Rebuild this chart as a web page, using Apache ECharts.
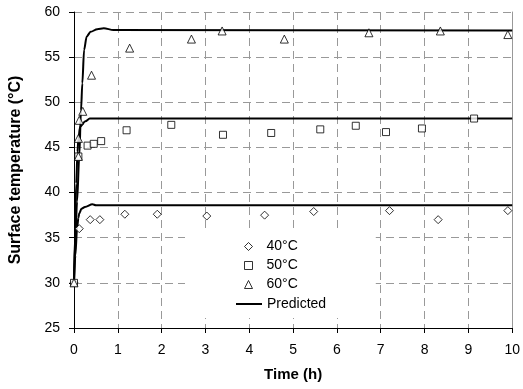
<!DOCTYPE html>
<html>
<head>
<meta charset="utf-8">
<script src="https://cdn.jsdelivr.net/npm/echarts@6/dist/echarts.min.js"></script>
<style>
  html, body { margin: 0; padding: 0; background: #fff; }
  #chart { width: 523px; height: 389px; }
</style>
</head>
<body>
<div id="chart"></div>
<script>
// measured points [time (h), temperature]
var measured40 = [[0, 30], [0.12, 36], [0.37, 37], [0.59, 37], [1.16, 37.6], [1.9, 37.6], [3.03, 37.4],
    [4.35, 37.5], [5.47, 37.9], [7.2, 38.0], [8.31, 37.0], [9.9, 38.0]];
var measured50 = [[0, 30], [0.1, 44], [0.31, 45.2], [0.45, 45.4], [0.62, 45.7], [1.2, 46.9], [2.22, 47.5],
    [3.4, 46.4], [4.5, 46.6], [5.62, 47.0], [6.43, 47.4], [7.12, 46.7], [7.94, 47.1], [9.13, 48.2]];
var measured60 = [[0, 30], [0.1, 44], [0.1, 46], [0.12, 48], [0.2, 49], [0.4, 53], [1.27, 56], [2.68, 57],
    [3.38, 57.9], [4.8, 57], [6.73, 57.7], [8.36, 57.9], [9.9, 57.5]];

// predicted curves
var predicted40 = [[0, 30], [0.03, 33], [0.07, 36], [0.1, 37.2], [0.12, 37.7], [0.17, 38.2], [0.25, 38.4],
    [0.42, 38.7], [0.5, 38.6], [10, 38.6]];
var predicted50 = [[0, 30], [0.02, 35], [0.05, 41], [0.08, 44.5], [0.1, 46], [0.14, 47.3], [0.26, 47.9],
    [0.36, 48.2], [10, 48.2]];
var predicted60 = [[0, 30], [0.03, 35], [0.07, 39], [0.12, 44], [0.16, 49.1], [0.19, 52.1], [0.23, 55.8],
    [0.29, 57.3], [0.38, 57.8], [0.53, 58.1], [0.68, 58.2], [0.9, 58.0], [10, 57.95]];

var markerNames = ['40°C', '50°C', '60°C'];
var lineName = 'Predicted';

var font = "'Liberation Sans', Arial, sans-serif";

function markerSeries(name, symbol, size, data) {
    return {
        name: name,
        type: 'scatter',
        symbol: symbol,
        symbolSize: size,
        itemStyle: {color: '#fff', borderColor: '#000', borderWidth: 1},
        z: 3,
        data: data
    };
}

function curveSeries(data) {
    return {
        name: lineName,
        type: 'line',
        symbol: 'none',
        showSymbol: false,
        smooth: 0.3,
        smoothMonotone: 'x',
        lineStyle: {color: '#000', width: 2},
        itemStyle: {color: '#000'},
        z: 2,
        data: data
    };
}

var myChart = echarts.init(document.getElementById('chart'));

var option = {
    animation: false,
    backgroundColor: '#fff',
    textStyle: {fontFamily: font},
    grid: {left: 70, right: 7, top: 12, bottom: 61},
    legend: [{
        // marker entries, white box also covers the "Predicted" row
        orient: 'vertical',
        left: 185,
        top: 233,
        padding: [4, 78, 24, 59],
        backgroundColor: '#fff',
        itemWidth: 8,
        itemHeight: 8,
        itemGap: 0,
        z: 4,
        itemStyle: {color: '#fff', borderColor: '#000', borderWidth: 1},
        textStyle: {fontSize: 14, color: '#000', fontFamily: font, lineHeight: 19, padding: [0, 0, 0, 9]},
        data: markerNames
    }, {
        orient: 'vertical',
        left: 236,
        top: 294.5,
        padding: 0,
        itemWidth: 26,
        itemHeight: 2,
        z: 5,
        itemStyle: {color: '#000', borderWidth: 0},
        textStyle: {fontSize: 14, color: '#000', fontFamily: font, lineHeight: 19},
        data: [{name: lineName, icon: 'rect'}]
    }],
    xAxis: {
        type: 'value',
        min: 0,
        max: 10,
        interval: 1,
        name: 'Time (h)',
        nameLocation: 'middle',
        nameGap: 39,
        nameTextStyle: {fontSize: 15, fontWeight: 'bold', color: '#000', fontFamily: font},
        axisLine: {lineStyle: {color: '#000', width: 1}},
        axisTick: {show: true, length: 5, lineStyle: {color: '#000'}},
        axisLabel: {fontSize: 14, color: '#000', margin: 15, fontFamily: font},
        splitLine: {show: true, lineStyle: {color: '#999', type: [8, 5], width: 1}}
    },
    yAxis: [{
        type: 'value',
        min: 25,
        max: 60,
        interval: 5,
        name: 'Surface temperature (°C)',
        nameLocation: 'middle',
        nameGap: 50,
        nameTextStyle: {fontSize: 16, fontWeight: 'bold', color: '#000', fontFamily: font},
        axisLine: {show: true, lineStyle: {color: '#000', width: 1}},
        axisTick: {show: true, length: 5, lineStyle: {color: '#000'}},
        axisLabel: {fontSize: 14, color: '#000', margin: 14, fontFamily: font},
        splitLine: {show: true, lineStyle: {color: '#999', type: [8, 5], width: 1}}
    }, {
        // plain grey frame line on the right
        type: 'value',
        position: 'right',
        min: 25,
        max: 60,
        interval: 5,
        axisLine: {show: true, lineStyle: {color: '#999', width: 1}},
        axisTick: {show: false},
        axisLabel: {show: false},
        splitLine: {show: false}
    }],
    series: [
        curveSeries(predicted40),
        curveSeries(predicted50),
        curveSeries(predicted60),
        markerSeries('40°C', 'diamond', 8, measured40),
        markerSeries('50°C', 'rect', 7, measured50),
        markerSeries('60°C', 'triangle', 8, measured60)
    ]
};

myChart.setOption(option);
</script>
</body>
</html>
